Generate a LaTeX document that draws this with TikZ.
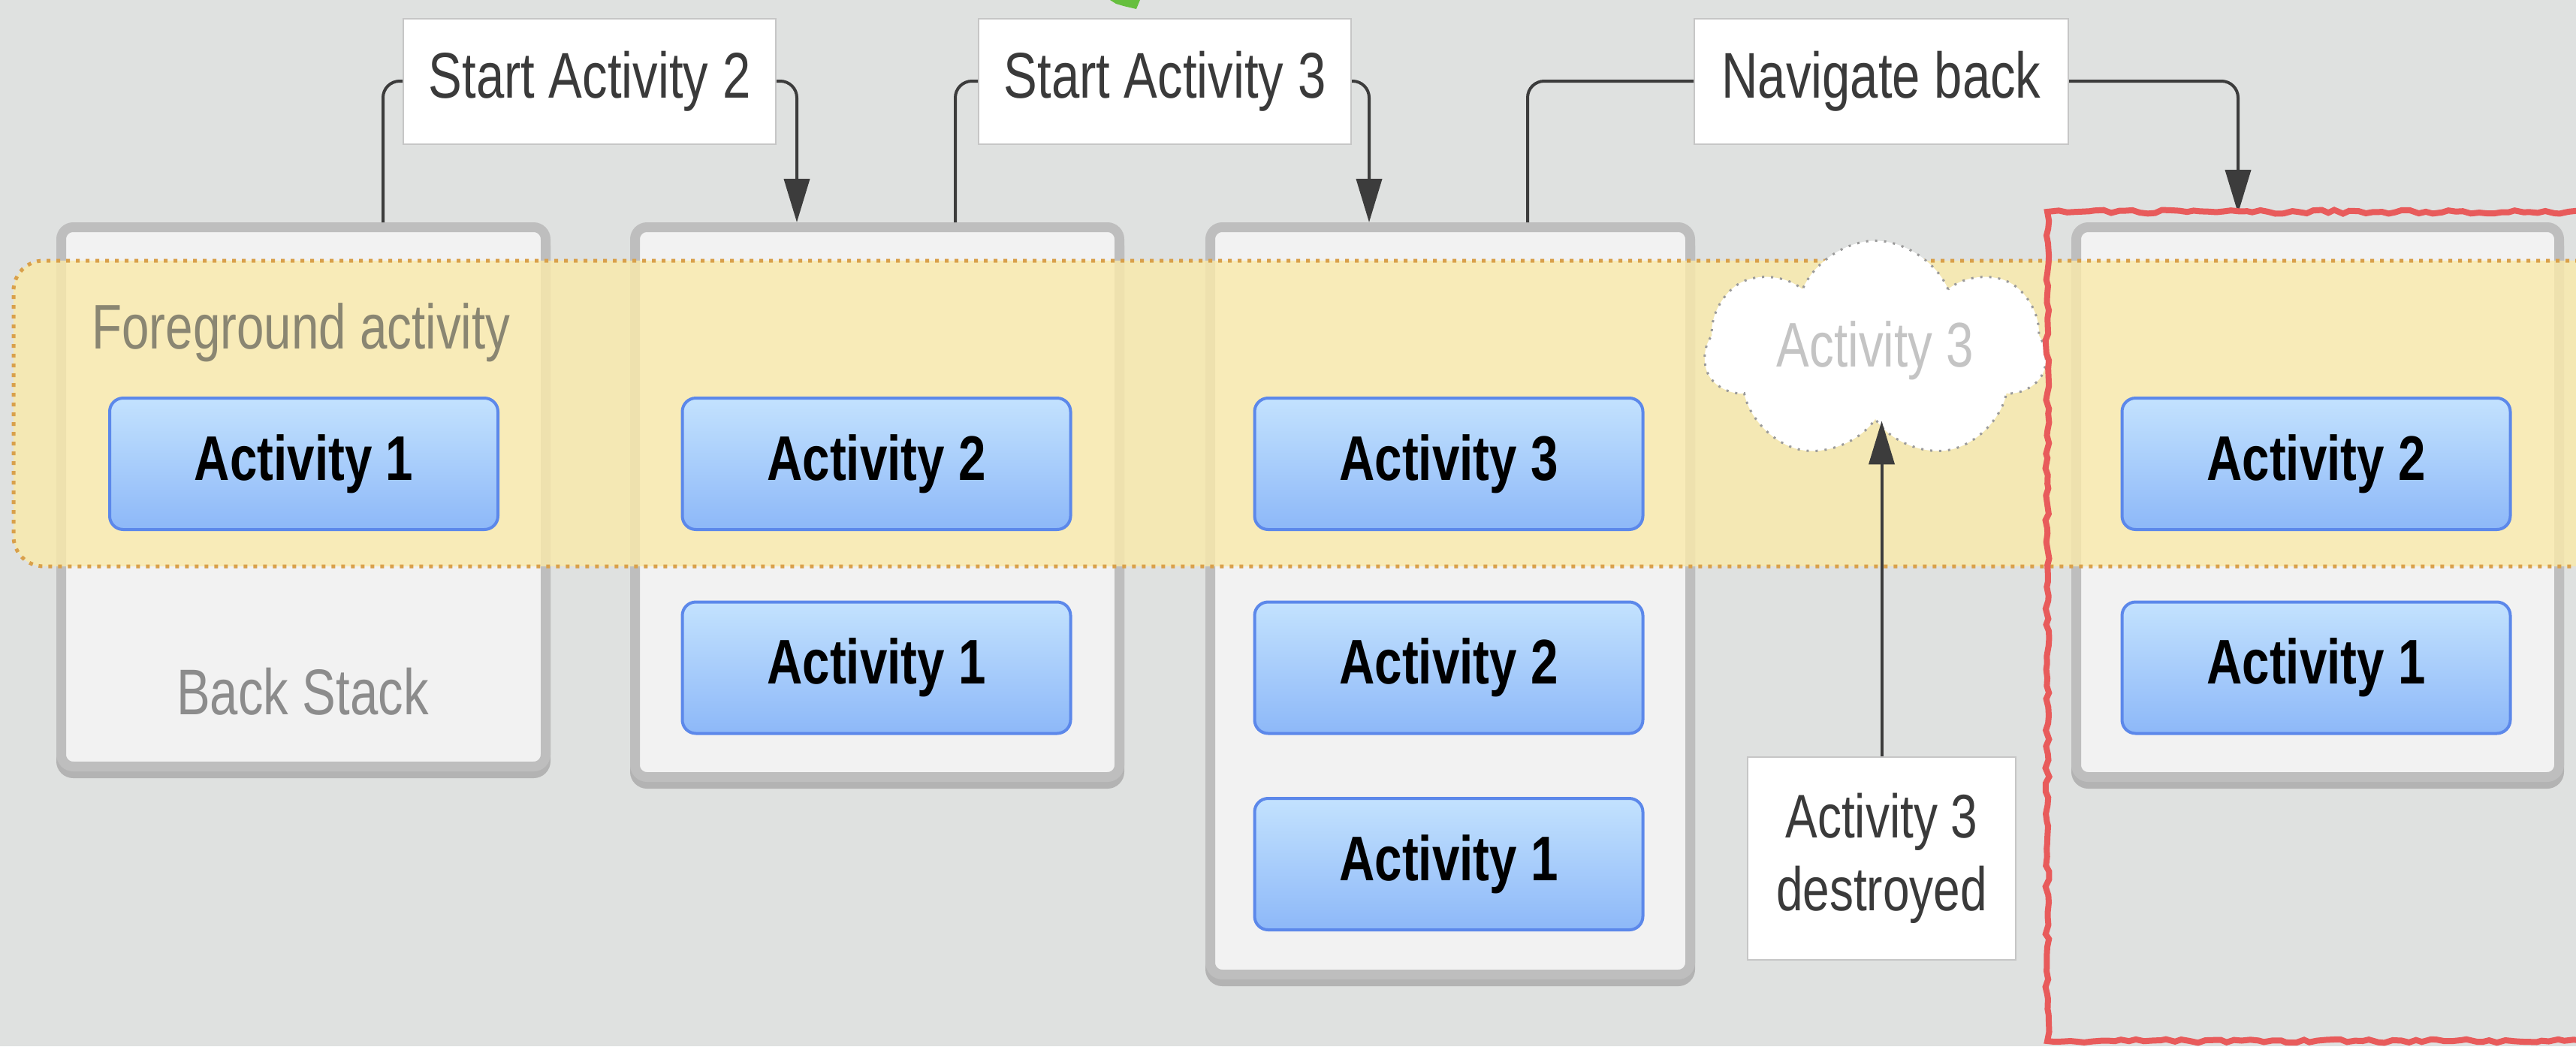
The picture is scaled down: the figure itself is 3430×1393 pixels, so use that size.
\documentclass[tikz,border=0pt]{standalone}
\usepackage{fontspec}
\newfontfamily\diagfont[FakeStretch=0.78]{Liberation Sans}
\usetikzlibrary{shapes.symbols,arrows.meta,decorations.pathmorphing}

\definecolor{bggray}{HTML}{DFE1E0}
\definecolor{stackedge}{HTML}{BEBEBE}
\definecolor{stackshadow}{HTML}{B3B3B3}
\definecolor{stackfill}{HTML}{F2F2F2}
\definecolor{bandfill}{HTML}{FAEAAA}
\definecolor{banddot}{HTML}{D9A04A}
\definecolor{acttop}{HTML}{C3E2FE}
\definecolor{actbot}{HTML}{8DB8F8}
\definecolor{actedge}{HTML}{5C88EA}
\definecolor{lbledge}{HTML}{C6C6C6}
\definecolor{lbltext}{HTML}{3A3A3A}
\definecolor{linecol}{HTML}{3C3C3C}
\definecolor{fgtext}{HTML}{8A8672}
\definecolor{bstext}{HTML}{8C8C8C}
\definecolor{cloudedge}{HTML}{9A9A9A}
\definecolor{cloudtext}{HTML}{C4C4C4}
\definecolor{redmark}{HTML}{E85B5B}
\definecolor{greenmark}{HTML}{66BF3E}

\begin{document}
\begin{tikzpicture}[x=1pt,y=-1pt,font=\diagfont,
  stackbox/.style={draw=stackedge, line width=13pt, fill=stackfill,
    rounded corners=16pt, inner sep=0pt,
    preaction={draw=stackshadow, line width=13pt, transform canvas={yshift=-9pt}}},
  actbox/.style={draw=actedge, line width=4pt, top color=acttop, bottom color=actbot,
    rounded corners=18pt, minimum width=517pt, minimum height=175pt, inner sep=0pt,
    text=black, font=\diagfont\bfseries\fontsize{84}{100}\selectfont},
  lbl/.style={fill=white, draw=lbledge, line width=2pt, minimum width=496pt,
    minimum height=167pt, inner sep=0pt, text=lbltext,
    font=\diagfont\fontsize{86}{100}\selectfont},
  conn/.style={draw=linecol, line width=4pt, rounded corners=22pt},
  arr/.style={-{Triangle[length=58pt,width=34pt]}}
]
\useasboundingbox (0,0) rectangle (3430,1393);
\fill[bggray] (0,0) rectangle (3430,1393);

% small green mark at the top edge
\fill[greenmark] (1478,0) -- (1518,0) -- (1513,12) -- (1496,8) -- (1486,5) -- cycle;

% the four back stacks
\node[stackbox, minimum width=645pt, minimum height=718pt] (S1) at (404,661.5) {};
\node[stackbox, minimum width=645pt, minimum height=732pt] (S2) at (1168,668.5) {};
\node[stackbox, minimum width=639pt, minimum height=995pt] (S3) at (1931,800) {};
\node[stackbox, minimum width=643pt, minimum height=732pt] (S4) at (3086,668.5) {};

% foreground band
\path[draw=banddot, line width=5pt, dash pattern=on 5pt off 8pt,
      fill=bandfill, fill opacity=0.8, rounded corners=40pt]
  (3460,347) -- (18,347) -- (18,754) -- (3460,754);

\node[anchor=base, text=fgtext, font=\diagfont\fontsize{84}{100}\selectfont]
  (fg) at (401,464) {Foreground activity};
\node[anchor=base, text=bstext, font=\diagfont\fontsize{86}{100}\selectfont]
  (bs) at (403,951) {Back Stack};

% activities in each stack
\node[actbox] (a11) at (404.5,617.5) {Activity 1};

\node[actbox] (a22) at (1167,617.5) {Activity 2};
\node[actbox] (a21) at (1167,889) {Activity 1};

\node[actbox] (a33) at (1929,617.5) {Activity 3};
\node[actbox] (a32) at (1929,889) {Activity 2};
\node[actbox] (a31) at (1929,1150.5) {Activity 1};

\node[actbox] (a42) at (3084,617.5) {Activity 2};
\node[actbox] (a41) at (3084,889) {Activity 1};

% destroyed activity
\node[cloud, cloud puffs=7, cloud puff arc=135, aspect=1.8,
      shape border rotate=-90,
      minimum width=455pt, minimum height=255pt, inner sep=0pt,
      fill=white, draw=cloudedge, line width=3pt, dash pattern=on 3pt off 9pt,
      text=cloudtext, font=\diagfont\fontsize{84}{100}\selectfont]
  (cl) at (2497,467) {Activity 3};

\node[fill=white, draw=lbledge, line width=2pt, minimum width=357pt,
      minimum height=270pt, inner sep=0pt, align=center, text=lbltext,
      font=\diagfont\fontsize{82}{97}\selectfont]
  (D) at (2505.5,1143) {Activity 3\\destroyed};

% transition labels
\node[lbl] (L2) at (785,108) {Start Activity 2};
\node[lbl] (L3) at (1551,108) {Start Activity 3};
\node[lbl, minimum width=498pt] (LN) at (2505,108) {Navigate back};

% connectors
\draw[conn] ([xshift=435pt]S1.north west) |- (L2.west);
\draw[conn,arr] (L2.east) -| ([xshift=222pt]S2.north west);
\draw[conn] ([xshift=433pt]S2.north west) |- (L3.west);
\draw[conn,arr] (L3.east) -| ([xshift=218pt]S3.north west);
\draw[conn] ([xshift=429pt]S3.north west) |- (LN.west);
\draw[conn,arr,shorten >=12pt] (LN.east) -| ([xshift=222pt]S4.north west);
\draw[conn,arr] (D.north) -- (D.north |- cl.south);

% highlight around the resulting stack
\pgfmathsetseed{7}
\draw[redmark, line width=8pt, decorate,
      decoration={random steps, segment length=10pt, amplitude=2.5pt}]
  (3450,282) -- (2726,282) -- (2726,1386) -- (3450,1386);
\end{tikzpicture}
\end{document}
